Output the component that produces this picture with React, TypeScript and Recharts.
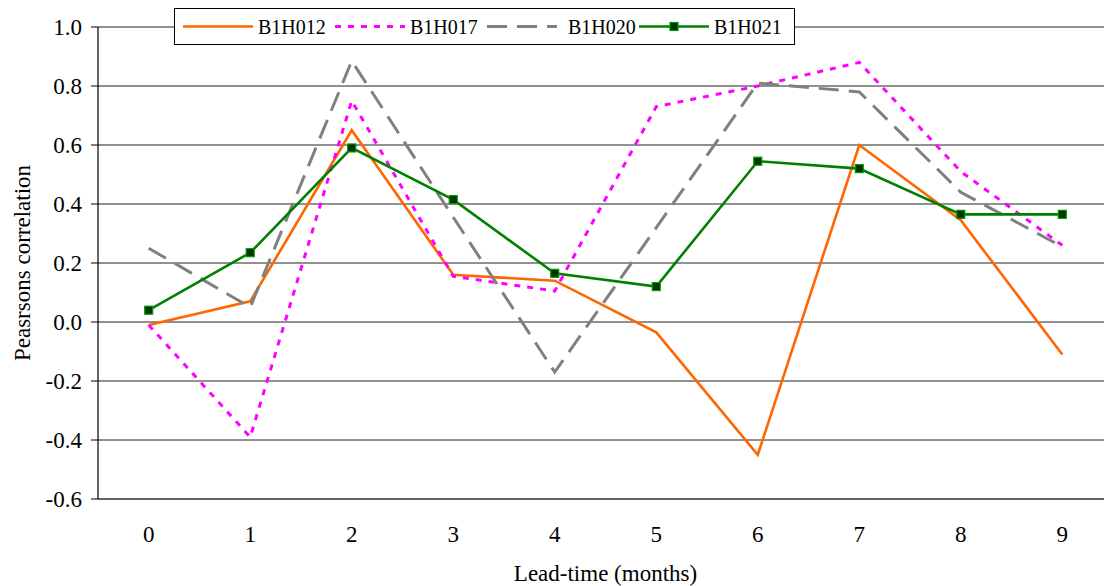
import React from 'react';
import { LineChart, Line, XAxis, YAxis, CartesianGrid, Legend } from 'recharts';

// Lead time in months
const leadTimes = ['0', '1', '2', '3', '4', '5', '6', '7', '8', '9'];

// Pearson correlation per station
const b1h012 = [-0.01, 0.07, 0.65, 0.16, 0.14, -0.035, -0.45, 0.6, 0.345, -0.11];
const b1h017 = [-0.01, -0.39, 0.75, 0.155, 0.105, 0.73, 0.8, 0.88, 0.51, 0.26];
const b1h020 = [0.25, 0.05, 0.885, 0.355, -0.17, 0.32, 0.81, 0.78, 0.44, 0.255];
const b1h021 = [0.04, 0.235, 0.59, 0.415, 0.165, 0.12, 0.545, 0.52, 0.365, 0.365];

const yTicks = [-0.6, -0.4, -0.2, 0.0, 0.2, 0.4, 0.6, 0.8, 1.0];

const data = leadTimes.map((lead, i) => ({
  lead,
  B1H012: b1h012[i],
  B1H017: b1h017[i],
  B1H020: b1h020[i],
  B1H021: b1h021[i],
}));

const FONT = 'Liberation Serif, serif';

type SeriesStyle = {
  key: string;
  color: string;
  width: number;
  dash?: string;
  marker?: boolean;
};

const series: SeriesStyle[] = [
  { key: 'B1H012', color: '#FF6600', width: 2.6 },
  { key: 'B1H017', color: '#FF00FF', width: 3, dash: '6 7' },
  { key: 'B1H020', color: '#808080', width: 3, dash: '20 10' },
  { key: 'B1H021', color: '#008000', width: 2.6, marker: true },
];

const tickStyle = { fontFamily: FONT, fontSize: 23, fill: '#000', style: { fontFamily: FONT } };

const SquareDot = (props: any) => {
  const { cx, cy, index } = props;
  if (cx == null || cy == null) return <g key={`d-${index}`} />;
  return (
    <rect
      key={`d-${index}`}
      x={cx - 4}
      y={cy - 4}
      width={8}
      height={8}
      fill="#003300"
      stroke="#009900"
      strokeWidth={1.2}
    />
  );
};

const LegendBox = () => {
  const W = 621;
  const H = 37;
  const step = 152;
  const lineLen = 70;
  return (
    <svg width={W} height={H} style={{ display: 'block' }}>
      <rect x={0.5} y={0.5} width={W - 1} height={H - 1} fill="#fff" stroke="#000" strokeWidth={1} />
      {series.map((s, i) => {
        const x0 = 9 + i * step;
        const cy = H / 2;
        return (
          <g key={s.key}>
            <line
              x1={x0}
              y1={cy}
              x2={x0 + lineLen}
              y2={cy}
              stroke={s.color}
              strokeWidth={s.width}
              strokeDasharray={s.dash}
            />
            {s.marker && (
              <rect x={x0 + lineLen / 2 - 4} y={cy - 4} width={8} height={8} fill="#003300" stroke="#009900" strokeWidth={1.2} />
            )}
            <text
              x={x0 + lineLen + 5 + (s.key === 'B1H020' ? 6 : 0)}
              y={cy + 7}
              fontFamily={FONT}
              style={{ fontFamily: FONT }}
              fontSize={20}
              fill="#000"
            >
              {s.key}
            </text>
          </g>
        );
      })}
    </svg>
  );
};

const YLabel = (props: any) => {
  const vb = props.viewBox || {};
  const x = (vb.x ?? 0) + 22;
  const y = (vb.y ?? 0) + (vb.height ?? 0) / 2;
  return (
    <text
      x={x}
      y={y}
      transform={`rotate(-90 ${x} ${y})`}
      textAnchor="middle"
      dominantBaseline="central"
      fontFamily={FONT}
      style={{ fontFamily: FONT }}
      fontSize={23}
      fill="#000"
    >
      Peasrsons correlation
    </text>
  );
};

export default function App() {
  return (
    <div
      style={{
        position: 'absolute',
        left: 0,
        top: 0,
        width: 1104,
        height: 586,
        overflow: 'hidden',
        background: '#fff',
        fontFamily: FONT,
      }}
    >
      <LineChart
        width={1130}
        height={586}
        data={data}
        margin={{ top: 27, right: 17, bottom: 0, left: 0 }}
        style={{ fontFamily: FONT }}
      >
        <CartesianGrid vertical={false} stroke="#222" strokeWidth={1} />
        <XAxis
          dataKey="lead"
          height={87}
          padding={{ left: 50.7, right: 50.7 }}
          axisLine={{ stroke: '#555', strokeWidth: 1.5 }}
          tickLine={false}
          tickSize={6}
          tickMargin={21}
          tick={tickStyle}
          label={{
            value: 'Lead-time (months)',
            position: 'insideBottom',
            offset: 5,
            fontFamily: FONT,
            style: { fontFamily: FONT, fontSize: 23, fill: '#000' },
          }}
        />
        <YAxis
          width={98}
          domain={[-0.6, 1.0]}
          ticks={yTicks}
          interval={0}
          allowDataOverflow
          axisLine={{ stroke: '#000', strokeWidth: 1.2 }}
          tickLine={{ stroke: '#000' }}
          tickSize={7}
          tickMargin={9}
          tickFormatter={(v: number) => v.toFixed(1)}
          tick={tickStyle}
          label={<YLabel />}
        />
        <Legend
          verticalAlign="middle"
          layout="horizontal"
          content={() => <LegendBox />}
          wrapperStyle={{ position: 'absolute', left: 174, top: 8, width: 621, height: 37 }}
        />
        {series.map((s) => (
          <Line
            key={s.key}
            type="linear"
            dataKey={s.key}
            stroke={s.color}
            strokeWidth={s.width}
            strokeDasharray={s.dash}
            dot={s.marker ? SquareDot : false}
            activeDot={false}
            isAnimationActive={false}
          />
        ))}
      </LineChart>
    </div>
  );
}
